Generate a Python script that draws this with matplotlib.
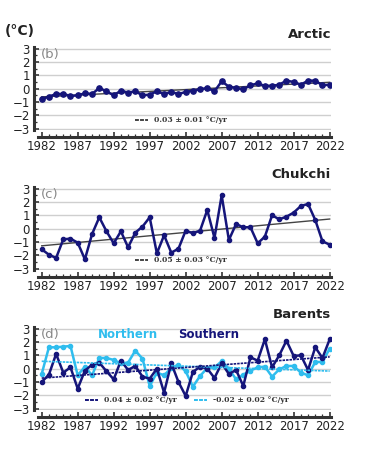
import numpy as np
import matplotlib
matplotlib.use("Agg")
import matplotlib.pyplot as plt
from matplotlib.ticker import MultipleLocator

years = list(range(1982, 2023))

arctic = [-0.78, -0.6, -0.4, -0.4, -0.55, -0.5, -0.35, -0.4, 0.05, -0.2,
          -0.5, -0.15, -0.3, -0.2, -0.5, -0.45, -0.2, -0.4, -0.25, -0.4,
          -0.25, -0.15, -0.05, 0.05, -0.2, 0.55, 0.15, 0.05, -0.05, 0.25,
          0.4, 0.2, 0.2, 0.3, 0.6, 0.5, 0.3, 0.6, 0.6, 0.25, 0.3]

chukchi = [-1.55, -1.95, -2.2, -0.8, -0.75, -1.05, -2.3, -0.4, 0.85, -0.2,
           -1.1, -0.2, -1.4, -0.3, 0.15, 0.85, -1.85, -0.5, -1.8, -1.5,
           -0.15, -0.35, -0.15, 1.4, -0.7, 2.5, -0.85, 0.35, 0.1, 0.1,
           -1.1, -0.6, 1.0, 0.7, 0.9, 1.2, 1.7, 1.85, 0.65, -0.95, -1.2]

barents_south = [-1.0, -0.45, 1.1, -0.3, 0.1, -1.5, -0.15, 0.3, 0.45, -0.2,
                 -0.8, 0.6, -0.1, 0.2, -0.6, -0.75, 0.0, -1.8, 0.4, -1.0,
                 -2.05, -0.25, 0.15, 0.0, -0.7, 0.4, -0.4, -0.1, -1.3, 0.85,
                 0.6, 2.2, 0.1, 1.0, 2.1, 0.95, 1.0, -0.1, 1.6, 0.8, 2.2]

barents_north = [-0.4, 1.6, 1.6, 1.65, 1.7, -0.5, 0.15, -0.5, 0.8, 0.8,
                 0.65, 0.4, 0.45, 1.35, 0.75, -1.3, -0.3, -0.5, 0.05, 0.3,
                 -0.2, -1.35, -0.55, 0.05, 0.1, 0.55, 0.0, -0.8, -0.45, -0.15,
                 0.1, 0.15, -0.6, -0.05, 0.2, 0.2, -0.3, -0.5, 0.5, 0.5, 1.5]

trend_labels = {
    "arctic": "0.03 ± 0.01 °C/yr",
    "chukchi": "0.05 ± 0.03 °C/yr",
    "south": "0.04 ± 0.02 °C/yr",
    "north": "-0.02 ± 0.02 °C/yr",
}

NAVY = "#15157a"
LIGHT = "#2fbdee"
GRAY = "#444444"

W, H = 368, 450
fig = plt.figure(figsize=(W / 100, H / 100), dpi=100)

left = 38.1 / W
width = 293 / W
ax_h = 82.7 / H
bottoms = [1 - 130 / H, 1 - 270 / H, 1 - 410 / H]

x = np.array(years)


def style_axes(ax, title, letter):
    ax.set_xlim(1981.5, 2022.2)
    ax.set_ylim(-3.1, 3.1)
    ax.set_yticks([-3, -2, -1, 0, 1, 2, 3])
    ax.set_xticks(list(range(1982, 2023, 5)))
    ax.xaxis.set_minor_locator(MultipleLocator(1))
    ax.yaxis.set_minor_locator(MultipleLocator(0.5))
    for s in ("top", "right"):
        ax.spines[s].set_visible(False)
    ax.spines["left"].set_position(("outward", 3))
    ax.spines["bottom"].set_position(("outward", 5))
    for s in ("left", "bottom"):
        ax.spines[s].set_linewidth(2.2)
        ax.spines[s].set_color("#333333")
    ax.tick_params(axis="both", which="both", direction="in", color="#333333",
                   labelsize=8.5, labelcolor="#222222")
    ax.tick_params(axis="both", which="major", length=3.5, width=1.2, pad=2)
    ax.tick_params(axis="both", which="minor", length=2, width=0.9)
    ax.tick_params(axis="y", which="major", pad=3)
    ax.grid(axis="y", color="#cfcfcf", linewidth=1.0)
    ax.set_axisbelow(True)
    ax.text(1.0, 1.08, title, transform=ax.transAxes, ha="right", va="bottom",
            fontsize=9.5, fontweight="bold", color="#222222")
    ax.text(0.01, 0.99, letter, transform=ax.transAxes, ha="left", va="top",
            fontsize=9.5, color="#888888")


def trend(vals):
    p = np.polyfit(x, np.array(vals), 1)
    return np.polyval(p, x)


def legend_entry(ax, x0, text, color, ls):
    y0 = -2.35
    ax.plot([x0, x0 + 1.8], [y0, y0], color=color, lw=1.4, ls=ls)
    ax.text(x0 + 2.6, y0, text, ha="left", va="center", fontsize=5.5,
            fontweight="bold", family="DejaVu Serif", color="#333333")


# Panel (b) Arctic
ax1 = fig.add_axes([left, bottoms[0], width, ax_h])
style_axes(ax1, "Arctic", "(b)")
ax1.plot(x, trend(arctic), color=GRAY, lw=1.0, zorder=2)
ax1.plot(x, arctic, color=NAVY, lw=1.8, marker="o", ms=3.8, zorder=3)
legend_entry(ax1, 1995.0, trend_labels["arctic"], GRAY, (0, (2, 0.6)))

# Panel (c) Chukchi
ax2 = fig.add_axes([left, bottoms[1], width, ax_h])
style_axes(ax2, "Chukchi", "(c)")
ax2.plot(x, trend(chukchi), color=GRAY, lw=1.0, zorder=2)
ax2.plot(x, chukchi, color=NAVY, lw=1.8, marker="o", ms=3.0, zorder=3)
legend_entry(ax2, 1995.0, trend_labels["chukchi"], GRAY, (0, (2, 0.6)))

# Panel (d) Barents
ax3 = fig.add_axes([left, bottoms[2], width, ax_h])
style_axes(ax3, "Barents", "(d)")
ax3.plot(x, barents_north, color=LIGHT, lw=1.8, marker="o", ms=3.0, zorder=3)
ax3.plot(x, barents_south, color=NAVY, lw=1.8, marker="o", ms=3.0, zorder=4)
ax3.plot(x, trend(barents_north), color=LIGHT, lw=1.2, ls=(0, (1.5, 0.6)), zorder=5)
ax3.plot(x, trend(barents_south), color=NAVY, lw=1.2, ls=(0, (1.5, 0.6)), zorder=5)
legend_entry(ax3, 1988.0, trend_labels["south"], NAVY, (0, (2, 0.6)))
legend_entry(ax3, 2003.2, trend_labels["north"], LIGHT, (0, (2, 0.6)))
ax3.text(1989.8, 2.55, "Northern", color=LIGHT, fontsize=8.5, fontweight="bold",
         ha="left", va="center")
ax3.text(2000.9, 2.55, "Southern", color=NAVY, fontsize=8.5, fontweight="bold",
         ha="left", va="center")

fig.text(5 / W, 1 - 31 / H, "(°C)", fontsize=10, fontweight="bold",
         ha="left", va="center", color="#222222")

fig.savefig("out.png", dpi=100, facecolor="white")
